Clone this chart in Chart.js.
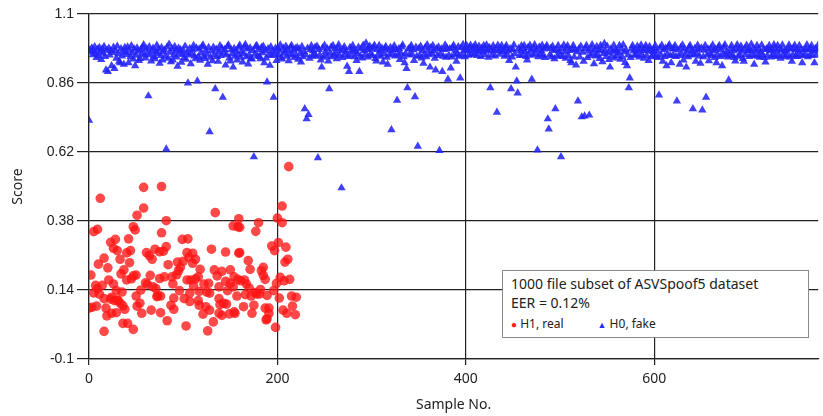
<!DOCTYPE html>
<html>
<head>
<meta charset="utf-8">
<script src="https://cdn.jsdelivr.net/npm/chart.js@4.4.1/dist/chart.umd.min.js"></script>
<style>
  body { margin: 0; background: #fff; }
  #wrap { position: relative; width: 823px; height: 416px; }
  #note {
    position: absolute; left: 502px; top: 270px; width: 305px; height: 66px;
    border: 1px solid #8a8a8a; background: #fff; color: #222;
    font-family: 'Noto Sans', sans-serif;
  }
  #note .l1 { position: absolute; left: 8px; top: 3px; font-size: 14px; }
  #note .l2 { position: absolute; left: 8px; top: 22px; font-size: 14px; }
  #note .l3 { position: absolute; left: 8px; top: 44px; font-size: 12px; }
  #note .dot { color: #ff1a1a; font-size: 10px; }
  #note .tri { color: #2a2af5; font-size: 9px; }
</style>
</head>
<body>
<div id="wrap">
  <canvas id="chart" width="823" height="416"></canvas>
  <div id="note">
    <div class="l1">1000 file subset of ASVSpoof5 dataset</div>
    <div class="l2">EER = 0.12%</div>
    <div class="l3"><span class="dot">●</span> H1, real<span style="display:inline-block;width:34px"></span><span class="tri">▲</span> H0, fake</div>
  </div>
</div>
<script>
// axis ticks
const xTicks = [0, 200, 400, 600];
const yTicks = [-0.1, 0.14, 0.38, 0.62, 0.86, 1.1];

// H1, real: sample no. and score
const realNo = [0,2,3,5,5,7,8,9,9,10,11,12,14,16,16,16,18,19,20,21,23,23,24,24,26,26,27,28,29,29,30,30,31,33,33,34,35,36,36,37,38,
  40,40,41,42,43,44,45,47,47,47,49,50,50,51,51,54,55,56,58,58,60,61,62,64,65,66,67,68,70,71,72,73,75,75,76,76,77,77,79,80,
  82,82,83,84,87,88,89,90,90,93,94,95,96,97,99,100,101,103,104,104,105,106,107,107,108,110,110,111,113,113,116,116,117,117,118,
  121,122,124,125,126,127,128,128,130,132,133,134,136,138,138,138,139,141,141,143,145,145,146,147,149,150,150,153,153,154,154,155,157,158,158,159,159,160,160,
  161,164,165,166,167,169,170,171,172,173,175,176,177,178,180,181,182,183,185,185,187,187,188,189,189,191,191,194,196,197,198,199,
  200,201,202,203,205,205,206,207,208,209,210,211,212,213,215,216,219,220];
const realScore = [.077,.192,.08,.343,.13,.156,.084,.351,.145,.23,.126,.459,.156,.251,.11,-.004,.077,.05,.217,.175,.306,.108,.115,.059,.285,.161,.103,.316,.138,.061,.277,.105,.103,.247,.094,.196,.133,.024,.085,.21,.073,
  .269,.175,.024,.318,.235,.277,.179,.36,.189,.003,.349,.192,.119,.40,.084,.094,.14,.059,.497,.425,.165,.27,.16,.26,.191,.07,.247,.151,.282,.145,.117,.12,.273,.18,.061,.119,.339,.50,.275,.186,
  .381,.291,.033,.228,.087,.186,.161,.112,.073,.193,.237,.207,.138,.219,.316,.24,.11,.015,.27,.175,.318,.254,.129,.10,.175,.268,.233,.154,.247,.179,.186,.103,.135,.087,.212,
  .056,.161,.082,.133,-.002,.163,.129,.07,.282,.029,.21,.409,.189,.151,.11,.059,.089,.205,.052,.094,.272,.17,.091,.138,.057,.21,.163,.363,.151,.186,.064,.059,.119,.36,.177,.388,.268,.358,.27,
  .172,.082,.175,.124,.161,.242,.147,.212,.119,.059,.087,.131,.344,.126,.374,.126,.142,.207,.219,.191,.177,.077,.036,.121,.04,.077,.059,.293,.138,.277,.01,.163,
  .39,.305,.112,.184,.432,.374,.07,.172,.237,.289,.059,.247,.569,.177,.119,.084,.054,.115];

// H0, fake: score per sample no. (index = sample no.)
const fakeScore = [
  .73,.975,.968,.982,.958,.971,.986,.962,.948,.977,.955,.983,.969,.941,.978,.963,.987,.952,.905,.974,
  .90,.981,.957,.972,.92,.966,.984,.91,.973,.946,.988,.961,.935,.93,.979,.954,.97,.925,.983,.967,
  .959,.985,.93,.974,.951,.989,.965,.943,.978,.92,.956,.982,.97,.938,.945,.976,.961,.984,.993,.957,
  .947,.979,.964,.815,.986,.958,.936,.973,.981,.952,.944,.969,.991,.962,.977,.928,.955,.983,.94,.968,
  .975,.953,.63,.985,.946,.995,.967,.934,.979,.94,.958,.987,.972,.95,.918,.981,.963,.976,.932,.959,
  .973,.948,.988,.942,.966,.86,.957,.98,.927,.961,.975,.99,.954,.944,.982,.867,.951,.978,.939,.964,
  .986,.992,.953,.945,.974,.96,.925,.983,.69,.949,.971,.937,.984,.958,.84,.977,.952,.935,.969,.989,
  .955,.981,.81,.963,.976,.922,.958,.987,.992,.947,.936,.975,.961,.915,.98,.953,.972,.94,.959,.984,
  .991,.949,.97,.933,.962,.985,.994,.951,.978,.926,.957,.982,.945,.943,.973,.603,.96,.987,.99,.954,
  .976,.952,.944,.983,.965,.988,.93,.972,.947,.863,.979,.958,.921,.986,.955,.97,.81,.961,.981,.938,
  .979,.958,.974,.992,.949,.943,.982,.963,.971,.988,.953,.976,.937,.96,.984,.99,.957,.973,.948,.98,
  .955,.983,.942,.978,.962,.933,.987,.951,.969,.77,.958,.735,.981,.75,.946,.975,.989,.954,.972,.96,
  .984,.953,.988,.60,.976,.957,.94,.915,.982,.949,.991,.968,.955,.979,.936,.84,.963,.985,.951,.99,
  .957,.978,.962,.944,.981,.993,.955,.972,.495,.948,.977,.986,.959,.97,.918,.952,.90,.983,.956,.974,
  .99,.975,.951,.969,.938,.962,.984,.90,.953,.979,.947,.991,.973,.958,.999,.976,.95,.983,.988,.961,
  .978,.955,.984,.991,.945,.936,.976,.958,.99,.972,.953,.981,.933,.962,.979,.987,.949,.925,.974,.957,
  .983,.697,.961,.976,.989,.954,.975,.80,.958,.98,.941,.963,.985,.992,.951,.93,.962,.91,.843,.978,
  .957,.982,.99,.96,.975,.938,.812,.984,.953,.64,.979,.955,.988,.947,.973,.928,.96,.984,.951,.993,
  .974,.958,.915,.983,.962,.99,.971,.946,.905,.979,.955,.985,.625,.961,.978,.90,.953,.976,.992,.949,
  .981,.873,.956,.979,.912,.95,.983,.991,.958,.974,.935,.962,.986,.953,.877,.982,.957,.994,.973,.951,
  .978,.99,.972,.956,.983,.991,.959,.975,.984,.961,.993,.979,.955,.97,.988,.974,.952,.981,.968,.99,
  .958,.976,.992,.971,.949,.983,.843,.975,.957,.989,.972,.954,.98,.758,.991,.973,.96,.978,.99,.969,
  .975,.953,.982,.99,.958,.971,.938,.979,.84,.95,.976,.992,.961,.915,.867,.825,.98,.955,.973,.989,
  .957,.978,.99,.969,.952,.94,.983,.96,.991,.974,.873,.956,.98,.993,.962,.975,.627,.951,.985,.96,
  .972,.991,.955,.978,.948,.983,.99,.735,.70,.957,.98,.951,.988,.973,.944,.77,.976,.953,.99,.97,
  .956,.603,.98,.952,.992,.968,.946,.981,.989,.955,.973,.938,.93,.977,.99,.95,.975,.922,.968,.797,
  .978,.95,.988,.742,.967,.935,.745,.98,.99,.948,.971,.748,.955,.979,.993,.962,.927,.976,.954,.987,
  .958,.973,.945,.99,.976,.934,.962,.997,.971,.952,.988,.965,.941,.915,.978,.953,.97,.991,.947,.975,
  .972,.955,.966,.99,.942,.978,.95,.993,.968,.931,.975,.92,.957,.843,.877,.948,.98,.99,.972,.956,
  .975,.958,.988,.97,.95,.979,.992,.957,.973,.946,.98,.99,.955,.972,.938,.987,.976,.951,.969,.958,
  .978,.99,.953,.97,.948,.818,.982,.957,.991,.935,.975,.952,.981,.92,.96,.986,.993,.955,.93,.978,
  .957,.98,.99,.952,.797,.975,.955,.925,.983,.961,.992,.94,.978,.957,.915,.972,.951,.984,.99,.958,
  .973,.77,.958,.98,.935,.962,.991,.976,.954,.928,.982,.766,.951,.974,.99,.81,.957,.978,.937,.962,
  .981,.955,.992,.972,.948,.977,.93,.958,.983,.99,.952,.975,.92,.96,.984,.993,.956,.97,.95,.87,
  .958,.978,.99,.955,.972,.948,.936,.98,.993,.953,.976,.957,.988,.97,.945,.935,.979,.958,.991,.972,
  .976,.952,.974,.995,.958,.98,.925,.955,.972,.99,.953,.977,.949,.968,.992,.957,.976,.948,.933,.978,
  .955,.978,.99,.972,.95,.976,.958,.993,.98,.952,.97,.99,.955,.978,.946,.975,.992,.958,.971,.951,
  .973,.956,.979,.992,.95,.978,.935,.958,.98,.991,.954,.976,.952,.971,.99,.958,.977,.93,.955,.975,
  .958,.978,.993,.951,.975,.955,.979,.99,.957,.972,.93,.98,.956,.974,.992,.95,.976,.959,.922,.97
];

const realPts = realNo.map((x, i) => ({ x: x, y: realScore[i] }));
const fakePts = fakeScore.map((y, i) => ({ x: i, y: y }));

const axisFont = { family: 'Noto Sans', size: 14 };

new Chart(document.getElementById('chart'), {
  type: 'scatter',
  data: {
    datasets: [
      {
        label: 'H1, real',
        data: realPts,
        pointStyle: 'circle',
        pointRadius: 4.8,
        borderWidth: 0,
        backgroundColor: 'rgba(255,20,20,0.78)'
      },
      {
        label: 'H0, fake',
        data: fakePts,
        pointStyle: 'triangle',
        pointRadius: 4.8,
        borderWidth: 0,
        backgroundColor: 'rgba(35,35,250,0.88)'
      }
    ]
  },
  options: {
    responsive: false,
    animation: false,
    devicePixelRatio: 1,
    layout: { padding: { top: 14, right: 0, left: 0, bottom: 0 } },
    plugins: { legend: { display: false }, tooltip: { enabled: false } },
    scales: {
      x: {
        type: 'linear',
        min: 0,
        max: 774,
        afterBuildTicks: s => { s.ticks = xTicks.map(v => ({ value: v })); },
        afterFit: s => { s.height = 57; },
        grid: { color: '#222', lineWidth: 1.2, tickLength: 6 },
        border: { color: '#222', width: 1.2 },
        ticks: { font: axisFont, color: '#222', padding: 6, maxRotation: 0 },
        title: { display: true, text: 'Sample No.', font: axisFont, color: '#222', padding: { top: 0, bottom: 3 } }
      },
      y: {
        min: -0.1,
        max: 1.1,
        afterBuildTicks: s => { s.ticks = yTicks.map(v => ({ value: v })); },
        afterFit: s => { s.width = 89; },
        grid: { color: '#222', lineWidth: 1.2, tickLength: 12 },
        border: { color: '#222', width: 1.2 },
        ticks: {
          font: { family: 'Liberation Sans', size: 14 },
          color: '#222',
          padding: 3,
          callback: v => String(+v.toFixed(2))
        },
        title: { display: true, text: 'Score', font: axisFont, color: '#222', padding: { top: 10, bottom: 0 } }
      }
    }
  }
});
</script>
</body>
</html>
